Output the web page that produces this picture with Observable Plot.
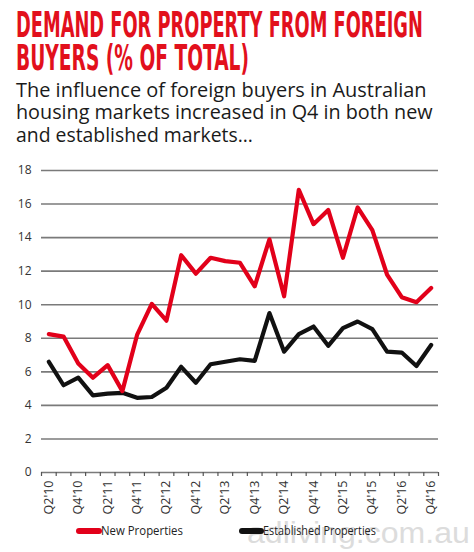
<!DOCTYPE html>
<html>
<head>
<meta charset="utf-8">
<script src="https://cdn.jsdelivr.net/npm/d3@7"></script>
<script src="https://cdn.jsdelivr.net/npm/@observablehq/plot@0.6"></script>
<style>
  html, body { margin: 0; padding: 0; background: #fff; }
  #wrap { position: relative; width: 474px; height: 552px; overflow: hidden; }
  #head, #foot { position: absolute; left: 0; }
  #head { top: 0; }
  #chart { position: absolute; left: 0; top: 150px; }
  #foot { top: 505px; }
</style>
</head>
<body>
<div id="wrap">
  <svg id="head" width="474" height="150">
    <g fill="#e2101c" font-family="'Liberation Sans Narrow', 'DejaVu Sans Condensed', sans-serif" font-weight="bold" font-size="35">
      <text class="fit" data-x="16" data-w="407" y="37">DEMAND FOR PROPERTY FROM FOREIGN</text>
      <text class="fit" data-x="16" data-w="233" y="70">BUYERS (% OF TOTAL)</text>
    </g>
    <g fill="#1a1a1a" font-family="'Open Sans', 'Noto Sans', sans-serif" font-weight="500" font-size="19.5">
      <text class="fit" data-x="16" data-w="411" y="97">The influence of foreign buyers in Australian</text>
      <text class="fit" data-x="16" data-w="417" y="119.5">housing markets increased in Q4 in both new</text>
      <text class="fit" data-x="16" data-w="237" y="142">and established markets...</text>
    </g>
  </svg>
  <div id="chart"></div>
  <svg id="foot" width="474" height="47">
    <text class="fit" data-x="247" data-w="223" y="38" fill="#dcdcdc" font-family="'Liberation Sans', Arial, sans-serif" font-size="29">adliving.com.au</text>
    <line x1="79" y1="26" x2="99" y2="26" stroke="#e2001a" stroke-width="6" stroke-linecap="round"/>
    <text class="fit" data-x="101" data-w="82" y="30.5" fill="#222" font-family="'Open Sans', 'Noto Sans', sans-serif" font-size="13">New Properties</text>
    <line x1="242" y1="26" x2="261" y2="26" stroke="#111" stroke-width="6" stroke-linecap="round"/>
    <text class="fit" data-x="263" data-w="113" y="30.5" fill="#222" font-family="'Open Sans', 'Noto Sans', sans-serif" font-size="13">Established Properties</text>
  </svg>
</div>
<script>
const quarters = [
  "Q2'10","Q3'10","Q4'10",
  "Q1'11","Q2'11","Q3'11","Q4'11",
  "Q1'12","Q2'12","Q3'12","Q4'12",
  "Q1'13","Q2'13","Q3'13","Q4'13",
  "Q1'14","Q2'14","Q3'14","Q4'14",
  "Q1'15","Q2'15","Q3'15","Q4'15",
  "Q1'16","Q2'16","Q3'16","Q4'16"
];
const newProperties = [
  8.25, 8.1, 6.5,
  5.65, 6.4, 4.85, 8.2,
  10.05, 9.05, 12.95, 11.85,
  12.8, 12.6, 12.5, 11.1,
  13.9, 10.5, 16.85, 14.8,
  15.65, 12.8, 15.8, 14.45,
  11.8, 10.45, 10.15, 11.0
];
const establishedProperties = [
  6.6, 5.2, 5.65,
  4.6, 4.7, 4.75, 4.45,
  4.5, 5.05, 6.3, 5.35,
  6.45, 6.6, 6.75, 6.65,
  9.5, 7.2, 8.25, 8.7,
  7.55, 8.6, 9.0, 8.55,
  7.2, 7.15, 6.35, 7.6
];
const yTicks = [0, 2, 4, 6, 8, 10, 12, 14, 16, 18];
const xLabelQuarters = ["Q2'10","Q4'10","Q2'11","Q4'11","Q2'12","Q4'12","Q2'13","Q4'13","Q2'14","Q4'14","Q2'15","Q4'15","Q2'16","Q4'16"];

// fit header/legend texts horizontally to the reference widths
document.querySelectorAll("text.fit").forEach(t => {
  const x = +t.dataset.x, w = +t.dataset.w;
  t.setAttribute("x", 0);
  const natural = t.getComputedTextLength();
  const s = natural > 0 ? w / natural : 1;
  t.setAttribute("transform", `translate(${x},0) scale(${s},1)`);
});

const rows = (vals) => vals.map((v, i) => ({i, v}));
const newRows = rows(newProperties);
const estRows = rows(establishedProperties);
const boundaries = d3.range(quarters.length + 1).map(k => k - 0.5);
const labelIdx = xLabelQuarters.map(q => quarters.indexOf(q));

const chart = Plot.plot({
  width: 474,
  height: 370,
  marginTop: 20,
  marginBottom: 48,
  marginLeft: 41,
  marginRight: 36,
  style: {fontFamily: "'Open Sans', 'Noto Sans', sans-serif", background: "transparent"},
  x: {type: "linear", domain: [-0.5, quarters.length - 0.5]},
  y: {domain: [0, 18]},
  marks: [
    Plot.ruleY(yTicks, {stroke: "#7a7a7a", strokeWidth: 1.6}),
    Plot.axisY({ticks: yTicks, tickSize: 0, tickPadding: 10, fontSize: 12, fill: "#333", label: null}),
    Plot.axisX({ticks: boundaries, tickSize: 4, tickFormat: () => "", stroke: "#555", strokeWidth: 1.2, label: null}),
    Plot.axisX({ticks: labelIdx, tickSize: 0, tickPadding: 8, tickRotate: -90, tickFormat: i => quarters[i], fontSize: 12.5, fill: "#333", label: null}),
    Plot.line(estRows, {x: "i", y: "v", stroke: "#111", strokeWidth: 4.2, strokeLinejoin: "round"}),
    Plot.line(newRows, {x: "i", y: "v", stroke: "#e2001a", strokeWidth: 4.2, strokeLinejoin: "round"})
  ]
});
document.getElementById("chart").appendChild(chart);
</script>
</body>
</html>
